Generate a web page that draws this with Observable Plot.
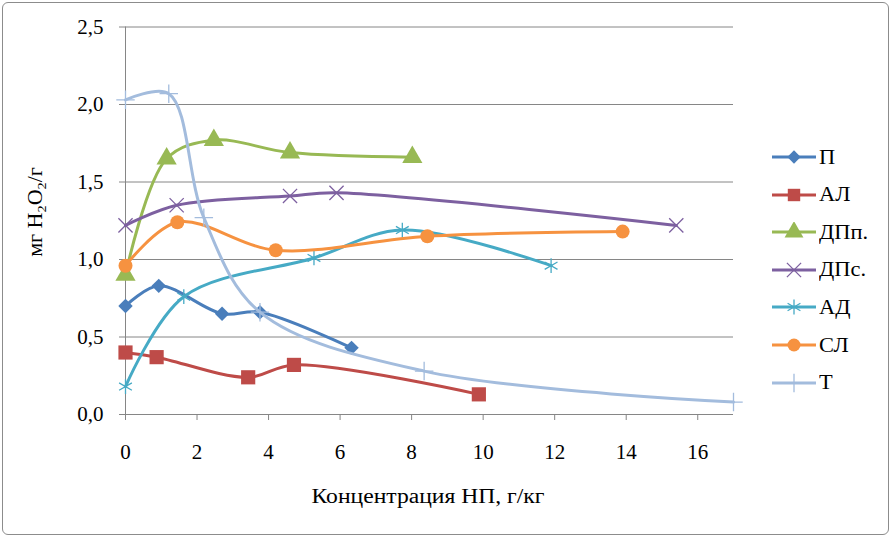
<!DOCTYPE html>
<html><head><meta charset="utf-8">
<script src="https://cdn.jsdelivr.net/npm/d3@7"></script>
<script src="https://cdn.jsdelivr.net/npm/@observablehq/plot@0.6"></script>
<style>
body{margin:0;background:#fff;font-family:'Liberation Serif','DejaVu Serif',serif;}
#wrap{position:relative;width:893px;height:538px;overflow:hidden}
#frame{position:absolute;left:2px;top:2px;width:887px;height:533px;border:1px solid #8c8c8c;border-radius:6px;box-sizing:border-box}
#chart{position:absolute;left:0;top:0}
#chart svg text{font-family:'Liberation Serif','DejaVu Serif',serif !important;}
#ylab{position:absolute;left:37px;top:212px;transform:translate(-50%,-50%) rotate(-90deg) scaleX(1.1);font-size:20px;white-space:nowrap;color:#000}
#ylab sub{font-size:13px;vertical-align:-4px}
#xlab{position:absolute;left:428px;top:496px;transform:translate(-50%,-50%) scaleX(1.18);font-size:20px;white-space:nowrap;color:#000}
#legend{position:absolute;left:770px;top:0}
.li{position:absolute;left:0;height:20px;display:flex;align-items:center;font-size:20px;white-space:nowrap}
.li span{display:inline-block;transform-origin:left center;transform:scaleX(1.12)}
</style></head>
<body>
<div id="wrap">
<div id="frame"></div>
<div id="chart"></div>
<div id="ylab">мг H<sub>2</sub>O<sub>2</sub>/г</div>
<div id="xlab">Концентрация НП, г/кг</div>
<div id="legend"></div>
</div>
<script>
// ---- data ----
const seriesNames = ["П", "АЛ", "ДПп.", "ДПс.", "АД", "СЛ", "Т"];
const seriesColors = ["#4A7EBB", "#BE4B48", "#98B954", "#7D60A0", "#46AAC5", "#F69240", "#A3BCDD"];
const seriesSymbols = ["diamond2", "square", "triangle", "times", "asterisk", "circle", "plus"];

const xP = [0, 0.93, 2.7, 3.76, 6.32];
const yP = [0.70, 0.83, 0.65, 0.66, 0.43];
const xAL = [0, 0.87, 3.43, 4.71, 9.88];
const yAL = [0.40, 0.37, 0.24, 0.32, 0.13];
const xDPp = [0, 1.15, 2.47, 4.6, 8.02];
const yDPp = [0.90, 1.65, 1.77, 1.69, 1.66];
const xDPs = [0, 1.43, 4.6, 5.9, 15.4];
const yDPs = [1.22, 1.35, 1.41, 1.43, 1.22];
const xAD = [0, 1.63, 5.27, 7.74, 11.9];
const yAD = [0.18, 0.76, 1.01, 1.19, 0.96];
const xSL = [0, 1.45, 4.2, 8.44, 13.9];
const ySL = [0.96, 1.24, 1.06, 1.15, 1.18];
const xT = [0, 1.21, 2.19, 3.76, 8.35, 17];
const yT = [2.03, 2.07, 1.27, 0.66, 0.28, 0.08];

const xTicks = [0, 2, 4, 6, 8, 10, 12, 14, 16];
const yTicks = [0, 0.5, 1.0, 1.5, 2.0, 2.5];

const seriesX = [xP, xAL, xDPp, xDPs, xAD, xSL, xT];
const seriesY = [yP, yAL, yDPp, yDPs, yAD, ySL, yT];

const rows = seriesNames.map((name, i) => seriesX[i].map((x, j) => ({series: name, x, y: seriesY[i][j]})));

const fmt = d => d3.format(".1f")(d).replace(".", ",");
const AX = "#868686";
const FONT = "'Liberation Serif','DejaVu Serif',serif";

const marks = [
  Plot.gridY(yTicks, {stroke: AX, strokeOpacity: 1, strokeWidth: 1}),
  Plot.ruleX([0], {stroke: AX, strokeWidth: 1}),
  Plot.ruleY([0], {stroke: AX, strokeWidth: 1}),
  Plot.axisX({ticks: xTicks, tickSize: 6, tickPadding: 24, stroke: AX, fill: "#000", label: null, tickFormat: d => String(d)}),
  Plot.axisY({ticks: yTicks, tickSize: 6, tickPadding: 16, stroke: AX, fill: "#000", label: null, tickFormat: fmt})
];

rows.forEach((data, i) => {
  const c = seriesColors[i];
  const sym = seriesSymbols[i];
  marks.push(Plot.line(data, {x: "x", y: "y", stroke: c, strokeWidth: 3, curve: "catmull-rom"}));
  const stroked = ["times", "asterisk", "plus"].includes(sym);
  const r = {diamond2: 6.5, square: 8, triangle: 7.5, times: 6.5, asterisk: 7, circle: 7, plus: 6}[sym];
  marks.push(Plot.dot(data, stroked
    ? {x: "x", y: "y", symbol: () => sym, r, stroke: c, strokeWidth: 1.3, fill: "none"}
    : {x: "x", y: "y", symbol: () => sym, r, fill: c, stroke: "none"}));
});

const chart = Plot.plot({
  width: 893,
  height: 538,
  marginLeft: 125,
  marginRight: 160,
  marginTop: 26.5,
  marginBottom: 124,
  x: {domain: [0, 17]},
  y: {domain: [0, 2.5]},
  symbol: {type: "identity"},
  style: {fontFamily: FONT, fontSize: "21px", color: "#000", background: "transparent"},
  marks
});
document.getElementById("chart").appendChild(chart);

// ---- legend ----
const legend = d3.select("#legend");
const legendTop = 157, legendStep = 37.6;
seriesNames.forEach((name, i) => {
  const item = legend.append("div").attr("class", "li").style("top", (legendTop + i * legendStep - 10) + "px");
  const svg = item.append("svg").attr("width", 48).attr("height", 20);
  svg.append("line").attr("x1", 2).attr("x2", 46).attr("y1", 10).attr("y2", 10)
    .attr("stroke", seriesColors[i]).attr("stroke-width", 3);
  const sym = seriesSymbols[i];
  const map = {diamond2: d3.symbolDiamond2, square: d3.symbolSquare, triangle: d3.symbolTriangle, times: d3.symbolTimes, asterisk: d3.symbolAsterisk, circle: d3.symbolCircle, plus: d3.symbolPlus};
  const r = {diamond2: 6, square: 7, triangle: 7, times: 6.5, asterisk: 7, circle: 6.5, plus: 6}[sym];
  const stroked = ["times", "asterisk", "plus"].includes(sym);
  svg.append("path").attr("transform", "translate(24,10)")
    .attr("d", d3.symbol(map[sym], r * r * Math.PI)())
    .attr("fill", stroked ? "none" : seriesColors[i])
    .attr("stroke", stroked ? seriesColors[i] : "none")
    .attr("stroke-width", 1.3);
  item.append("span").text(name).style("margin-left", "1px");
});
</script>
</body></html>
